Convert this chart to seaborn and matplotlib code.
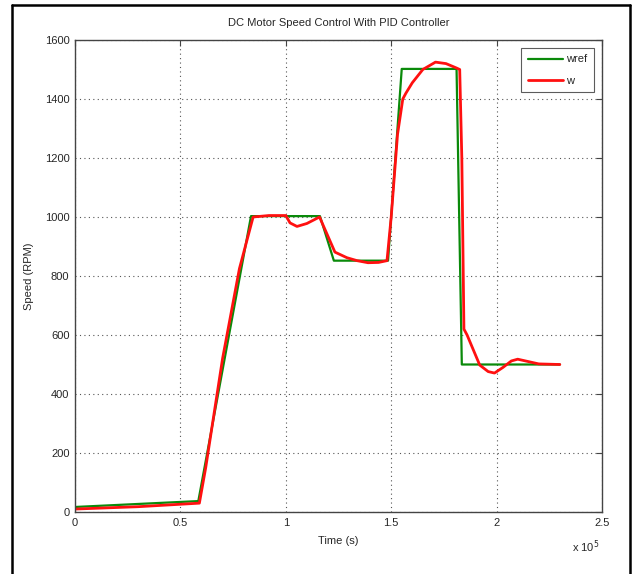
import numpy as np
import pandas as pd
import matplotlib
matplotlib.use("Agg")
import matplotlib.pyplot as plt
import seaborn as sns
from matplotlib.lines import Line2D

# time in units of 1e5 s (as shown on the axis)
wref_t = [0.0, 0.585, 0.835, 1.162, 1.228, 1.485, 1.55, 1.81, 1.835, 2.30]
wref_v = [17, 37, 1003, 1003, 852, 852, 1502, 1502, 500, 500]

w_t = [0.0, 0.30, 0.59, 0.62, 0.70, 0.78, 0.845, 0.92, 1.0, 1.02, 1.053, 1.10, 1.16,
       1.233, 1.29, 1.338, 1.39, 1.44, 1.48, 1.50, 1.53, 1.555, 1.57, 1.60, 1.65,
       1.71, 1.76, 1.81, 1.825, 1.835, 1.845, 1.86, 1.92, 1.96, 1.99, 2.03, 2.07,
       2.10, 2.15, 2.20, 2.30]
w_v = [10, 18, 30, 150, 520, 825, 1000, 1005, 1005, 980, 968, 978, 1000,
       881, 862, 852, 845, 846, 852, 1000, 1280, 1400, 1420, 1455, 1500,
       1525, 1520, 1505, 1500, 1200, 620, 600, 498, 476, 471, 490, 512,
       518, 510, 502, 500]

df = pd.concat([
    pd.DataFrame({"t": wref_t, "speed": wref_v, "series": "wref"}),
    pd.DataFrame({"t": w_t, "speed": w_v, "series": "w"}),
])

sns.set_style("white")
plt.rcParams["font.family"] = ["Liberation Sans Narrow", "Liberation Sans", "DejaVu Sans"]
plt.rcParams["font.size"] = 8

fig = plt.figure(figsize=(6.34, 5.74), dpi=100)
ax = fig.add_axes([75 / 634, 1 - 512 / 574, 527 / 634, 472 / 574])

palette = {"wref": "#0a8a0a", "w": "#ff1010"}
sns.lineplot(data=df, x="t", y="speed", hue="series", palette=palette,
             ax=ax, sort=False, estimator=None, legend=False)
for line, lw in zip(ax.get_lines(), [1.6, 2.0]):
    line.set_linewidth(lw)

ax.set_xlim(0, 2.5)
ax.set_ylim(0, 1600)
ax.set_xticks(np.arange(0, 2.51, 0.5))
ax.set_xticklabels(["0", "0.5", "1", "1.5", "2", "2.5"])
ax.set_yticks(np.arange(0, 1601, 200))
ax.tick_params(direction="in", length=4, top=True, right=True, labelsize=8,
               color="#444444", pad=4)
ax.grid(True, linestyle=(0, (1, 3)), color="#555555", linewidth=0.8)
for s in ax.spines.values():
    s.set_color("#444444")
    s.set_linewidth(1.0)

ax.set_title("DC Motor Speed Control With PID Controller", fontsize=8, pad=10)
ax.set_xlabel("Time (s)", fontsize=8, labelpad=6)
ax.set_ylabel("Speed (RPM)", fontsize=8, labelpad=8)
ax.text(0.995, -0.055, "x 10$^5$", transform=ax.transAxes, ha="right", va="top",
        fontsize=8)

handles = [Line2D([0], [0], color=palette["wref"], lw=1.6),
           Line2D([0], [0], color=palette["w"], lw=2.0)]
leg = ax.legend(handles, ["wref", "w"], loc="upper right", fontsize=8,
                frameon=True, fancybox=False, edgecolor="#333333",
                handlelength=3.2, handletextpad=0.3, borderpad=0.6,
                labelspacing=1.0, borderaxespad=0.7)
leg.get_frame().set_linewidth(0.8)

# outer frame
for xs, ys in [([12 / 634, 12 / 634], [0, 1 - 5 / 574]),
               ([630 / 634, 630 / 634], [0, 1 - 5 / 574]),
               ([12 / 634, 630 / 634], [1 - 5 / 574, 1 - 5 / 574])]:
    fig.add_artist(Line2D(xs, ys, color="black", lw=1.8, transform=fig.transFigure))

fig.savefig("out.png", dpi=100)
